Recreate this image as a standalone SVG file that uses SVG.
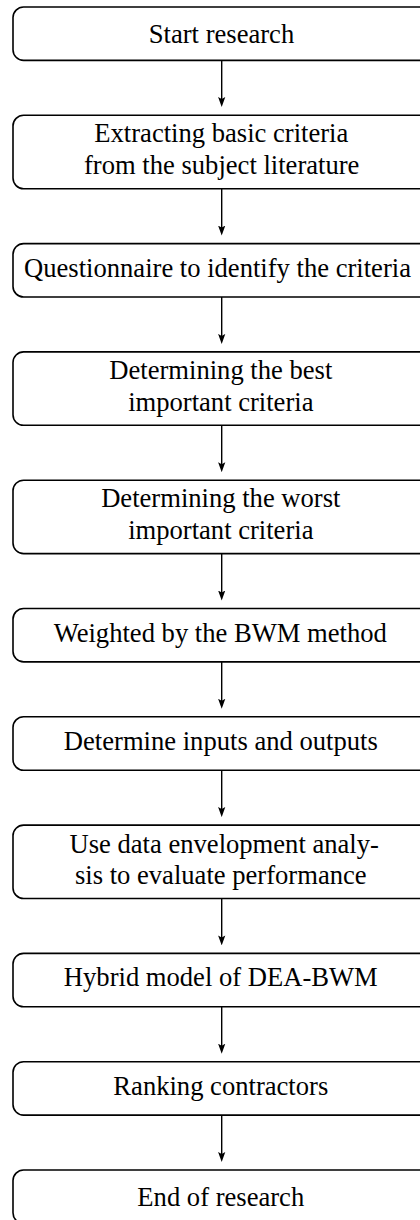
<svg xmlns="http://www.w3.org/2000/svg" width="420" height="1220" viewBox="0 0 420 1220">
  <style>
    .box { fill: #ffffff; stroke: #000000; stroke-width: 1.6; }
    .lbl { font-family: "Liberation Serif", "Times New Roman", serif; font-size: 26.6px; fill: #000000; text-anchor: middle; }
    .conn { stroke: #000000; stroke-width: 1.4; fill: none; }
  </style>
  <defs>
    <marker id="arr" markerUnits="userSpaceOnUse" markerWidth="10" markerHeight="8" viewBox="0 0 10 8" refX="6" refY="4" orient="auto">
      <path d="M0,0.4 L10,4 L0,7.6 L2,4 Z" fill="#000000"/>
    </marker>
  </defs>
  <rect width="420" height="1220" fill="#ffffff"/>

  <g id="connectors">
    <line class="conn" x1="221.7" y1="60.4" x2="221.7" y2="103" marker-end="url(#arr)"/>
    <line class="conn" x1="221.7" y1="188.7" x2="221.7" y2="231.6" marker-end="url(#arr)"/>
    <line class="conn" x1="221.7" y1="297" x2="221.7" y2="339.9" marker-end="url(#arr)"/>
    <line class="conn" x1="221.7" y1="425.3" x2="221.7" y2="468.2" marker-end="url(#arr)"/>
    <line class="conn" x1="221.7" y1="553.6" x2="221.7" y2="596.5" marker-end="url(#arr)"/>
    <line class="conn" x1="221.7" y1="661.9" x2="221.7" y2="704.8" marker-end="url(#arr)"/>
    <line class="conn" x1="221.7" y1="770.2" x2="221.7" y2="813.1" marker-end="url(#arr)"/>
    <line class="conn" x1="221.7" y1="898.5" x2="221.7" y2="941.4" marker-end="url(#arr)"/>
    <line class="conn" x1="221.7" y1="1006.8" x2="221.7" y2="1049.7" marker-end="url(#arr)"/>
    <line class="conn" x1="221.7" y1="1115.1" x2="221.7" y2="1158" marker-end="url(#arr)"/>
  </g>

  <g id="n1">
    <rect class="box" x="13" y="7" width="417.4" height="53.4" rx="10.6"/>
    <text class="lbl" x="221.5" y="43.2">Start research</text>
  </g>
  <g id="n2">
    <rect class="box" x="13" y="115.3" width="417.4" height="73.4" rx="10.6"/>
    <text class="lbl" x="221.3" y="142.3">Extracting basic criteria</text>
    <text class="lbl" x="221.7" y="174.2">from the subject literature</text>
  </g>
  <g id="n3">
    <rect class="box" x="13" y="243.6" width="417.4" height="53.4" rx="10.6"/>
    <text class="lbl" x="217.5" y="277">Questionnaire to identify the criteria</text>
  </g>
  <g id="n4">
    <rect class="box" x="13" y="351.9" width="417.4" height="73.4" rx="10.6"/>
    <text class="lbl" x="220.8" y="379.4">Determining the best</text>
    <text class="lbl" x="220.8" y="411.3">important criteria</text>
  </g>
  <g id="n5">
    <rect class="box" x="13" y="480.2" width="417.4" height="73.4" rx="10.6"/>
    <text class="lbl" x="220.8" y="507.2">Determining the worst</text>
    <text class="lbl" x="220.8" y="539.1">important criteria</text>
  </g>
  <g id="n6">
    <rect class="box" x="13" y="608.5" width="417.4" height="53.4" rx="10.6"/>
    <text class="lbl" x="220.3" y="641.6">Weighted by the BWM method</text>
  </g>
  <g id="n7">
    <rect class="box" x="13" y="716.8" width="417.4" height="53.4" rx="10.6"/>
    <text class="lbl" x="220.8" y="749.9">Determine inputs and outputs</text>
  </g>
  <g id="n8">
    <rect class="box" x="13" y="825.1" width="417.4" height="73.4" rx="10.6"/>
    <text class="lbl" x="224.2" y="852.6">Use data envelopment analy-</text>
    <text class="lbl" x="220.8" y="884">sis to evaluate performance</text>
  </g>
  <g id="n9">
    <rect class="box" x="13" y="953.4" width="417.4" height="53.4" rx="10.6"/>
    <text class="lbl" x="220.8" y="985.8">Hybrid model of DEA-BWM</text>
  </g>
  <g id="n10">
    <rect class="box" x="13" y="1061.7" width="417.4" height="53.4" rx="10.6"/>
    <text class="lbl" x="220.8" y="1094.8">Ranking contractors</text>
  </g>
  <g id="n11">
    <rect class="box" x="13" y="1170" width="417.4" height="53.4" rx="10.6"/>
    <text class="lbl" x="220.8" y="1205.5">End of research</text>
  </g>
</svg>
